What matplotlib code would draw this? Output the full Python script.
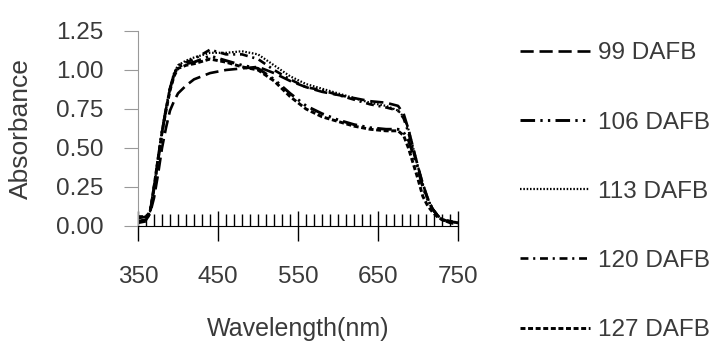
import matplotlib.pyplot as plt
from matplotlib.ticker import MultipleLocator

plt.rcParams['font.family'] = ['Liberation Sans', 'DejaVu Sans']

# wavelength grid (nm)
wavelength = [350, 360, 365, 370, 375, 380, 385, 390, 395, 400, 410, 420, 440, 460, 480,
              500, 520, 540, 560, 580, 600, 620, 640, 660, 675, 682, 688, 694, 700, 706,
              712, 718, 724, 730, 740, 750]

abs_99 = [0.05, 0.06, 0.08, 0.18, 0.33, 0.50, 0.63, 0.74, 0.80, 0.85, 0.90, 0.94, 0.98, 1.00, 1.01,
          1.02, 0.98, 0.93, 0.89, 0.86, 0.84, 0.82, 0.80, 0.79, 0.77, 0.72, 0.62, 0.50, 0.38, 0.27,
          0.18, 0.11, 0.07, 0.04, 0.03, 0.02]
abs_106 = [0.03, 0.04, 0.08, 0.24, 0.42, 0.60, 0.75, 0.88, 0.97, 1.02, 1.04, 1.05, 1.09, 1.06, 1.03,
           1.01, 0.94, 0.85, 0.77, 0.72, 0.68, 0.65, 0.63, 0.62, 0.62, 0.60, 0.55, 0.46, 0.36, 0.25,
           0.17, 0.11, 0.07, 0.04, 0.03, 0.02]
abs_113 = [0.03, 0.04, 0.09, 0.25, 0.43, 0.61, 0.76, 0.89, 0.98, 1.03, 1.06, 1.08, 1.11, 1.11, 1.12,
           1.10, 1.03, 0.96, 0.91, 0.88, 0.85, 0.82, 0.79, 0.77, 0.74, 0.70, 0.62, 0.50, 0.38, 0.27,
           0.18, 0.11, 0.07, 0.04, 0.03, 0.02]
abs_120 = [0.02, 0.03, 0.09, 0.25, 0.43, 0.60, 0.75, 0.88, 0.97, 1.03, 1.05, 1.07, 1.13, 1.10, 1.10,
           1.07, 1.00, 0.94, 0.89, 0.87, 0.84, 0.81, 0.78, 0.76, 0.74, 0.69, 0.60, 0.48, 0.37, 0.26,
           0.17, 0.11, 0.07, 0.04, 0.02, 0.01]
abs_127 = [0.06, 0.06, 0.09, 0.25, 0.43, 0.60, 0.74, 0.87, 0.96, 1.01, 1.03, 1.04, 1.07, 1.05, 1.02,
           1.00, 0.93, 0.83, 0.75, 0.70, 0.67, 0.64, 0.62, 0.61, 0.61, 0.58, 0.50, 0.40, 0.30, 0.19,
           0.13, 0.09, 0.06, 0.04, 0.03, 0.02]

labels = ["99 DAFB", "106 DAFB", "113 DAFB", "120 DAFB", "127 DAFB"]
series = [abs_99, abs_106, abs_113, abs_120, abs_127]
dash_styles = [(0, (5, 2.2)), (0, (5, 1.8, 0.8, 1.8, 0.8, 1.8)), (0, (0.7, 0.8)), (0, (3, 1.8, 0.8, 1.8)), (0, (1.7, 0.9))]
widths = [1.9, 2.1, 1.6, 1.9, 2.1]

fig = plt.figure(figsize=(7.17, 3.48), dpi=100)
ax = fig.add_axes([0.1925, 0.3506, 0.4463, 0.5604])

for y, lab, ls, lw in zip(series, labels, dash_styles, widths):
    ax.plot(wavelength, y, color='black', linestyle=ls, linewidth=lw, label=lab)

ax.set_xlim(350, 750)
ax.set_ylim(0, 1.25)
ax.set_xticks([350, 450, 550, 650, 750])
ax.xaxis.set_minor_locator(MultipleLocator(10))
ax.set_yticks([0, 0.25, 0.5, 0.75, 1.0, 1.25])
ax.set_yticklabels(["0.00", "0.25", "0.50", "0.75", "1.00", "1.25"])

for s in ['top', 'right']:
    ax.spines[s].set_visible(False)
ax.spines['left'].set_color('#999999')
ax.spines['bottom'].set_color('black')

txt = '#3a3a3a'
ax.tick_params(axis='y', which='major', direction='out', length=10, color='#999999',
               labelsize=17.5, labelcolor=txt, pad=15)
ax.tick_params(axis='x', which='major', direction='inout', length=21, width=1, color='black',
               labelsize=17.5, labelcolor=txt, pad=18)
ax.tick_params(axis='x', which='minor', direction='in', length=9, width=1, color='black')

ax.set_xlabel("Wavelength(nm)", fontsize=18, color=txt)
ax.xaxis.set_label_coords(0.5016, -0.465)
ax.set_ylabel("Absorbance", fontsize=19, color=txt)
ax.yaxis.set_label_coords(-0.328, 0.5)

fig.legend(loc='upper left', bbox_to_anchor=(0.725, 0.878), frameon=False, fontsize=17.5,
           handlelength=2.9, handletextpad=0.3, labelspacing=1.94, borderpad=0,
           borderaxespad=0, labelcolor=txt)

fig.savefig("out.png", dpi=100)
